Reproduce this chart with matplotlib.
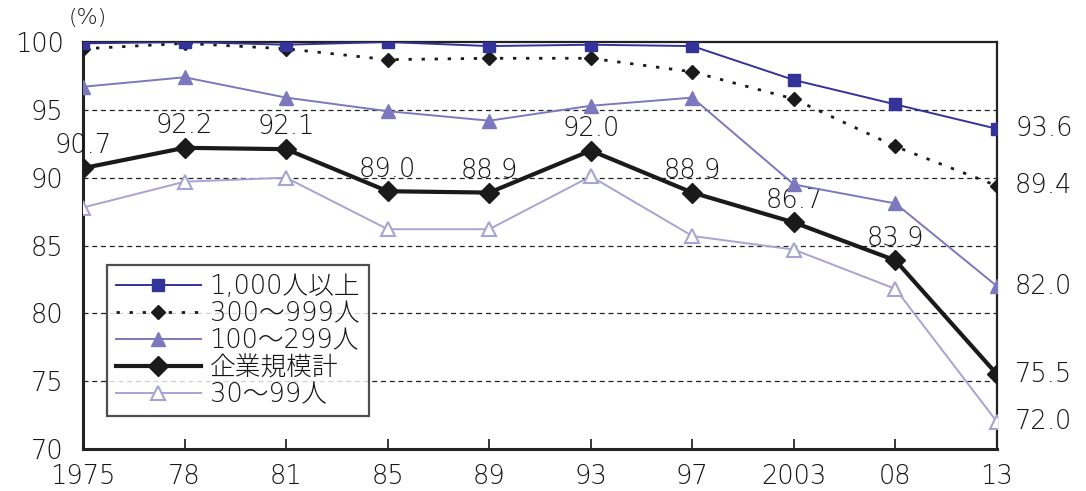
import matplotlib
matplotlib.use("Agg")
import matplotlib.pyplot as plt
import numpy as np

plt.rcParams['font.family'] = ['DejaVu Sans', 'Noto Sans CJK JP']

years = ["1975", "78", "81", "85", "89", "93", "97", "2003", "08", "13"]

s_1000 = [99.9, 100.0, 99.8, 100.0, 99.7, 99.8, 99.7, 97.2, 95.4, 93.6]
s_300 = [99.5, 99.9, 99.5, 98.7, 98.8, 98.8, 97.8, 95.8, 92.3, 89.4]
s_100 = [96.7, 97.4, 95.9, 94.9, 94.2, 95.3, 95.9, 89.5, 88.1, 82.0]
s_total = [90.7, 92.2, 92.1, 89.0, 88.9, 92.0, 88.9, 86.7, 83.9, 75.5]
s_30 = [87.8, 89.7, 90.0, 86.2, 86.2, 90.1, 85.7, 84.7, 81.8, 72.0]

names = ["1,000人以上", "300～999人", "100～299人", "企業規模計", "30～99人"]

x = np.arange(len(years))
txt = "#151515"
fs = 18.5
wt = "light"

fig = plt.figure(figsize=(10.86, 4.91), dpi=100)
ax = fig.add_axes([83 / 1086, 1 - 449 / 491, (997 - 83) / 1086, (449 - 42) / 491])

ax.plot(x, s_1000, color="#33339a", lw=1.4, marker="s", ms=9,
        mfc="#33339a", mec="#33339a", label=names[0], zorder=5)
ax.plot(x, s_300, color="#1a1a1a", lw=2.0, ls=(0, (1.2, 3.5)), marker="D", ms=7,
        mfc="#1a1a1a", mec="#1a1a1a", label=names[1], zorder=4)
ax.plot(x, s_100, color="#7b78bd", lw=1.4, marker="^", ms=10,
        mfc="#7b78bd", mec="#7b78bd", label=names[2], zorder=4)
ax.plot(x, s_total, color="#1a1a1a", lw=3.0, marker="D", ms=10,
        mfc="#1a1a1a", mec="#1a1a1a", label=names[3], zorder=6)
ax.plot(x, s_30, color="#a7a3d3", lw=1.4, marker="^", ms=10,
        mfc="white", mec="#a7a3d3", mew=1.5, label=names[4], zorder=3)

ax.set_xlim(0, len(years) - 1)
ax.set_ylim(70, 100)
ax.set_yticks([70, 75, 80, 85, 90, 95, 100])
ax.set_xticks(x)
ax.set_xticklabels(years)
ax.tick_params(axis="both", direction="in", length=7, width=1.2,
               labelsize=fs, colors=txt, labelcolor=txt)
ax.tick_params(axis="x", pad=11)
ax.tick_params(axis="y", pad=14, length=0)
for lab in ax.get_xticklabels() + ax.get_yticklabels():
    lab.set_fontweight(wt)

for v in [75, 80, 85, 90, 95]:
    ax.axhline(v, color="#222222", lw=0.9, ls=(0, (4, 3)), zorder=1)

for sp in ax.spines.values():
    sp.set_color("#222222")
    sp.set_linewidth(1.6)
ax.spines["left"].set_linewidth(2.2)
ax.spines["bottom"].set_linewidth(2.2)

# value labels above the overall line
for xi, v in zip(x[:-1], s_total[:-1]):
    ax.annotate(f"{v:.1f}", (xi, v), xytext=(0, 7), textcoords="offset points",
                ha="center", va="bottom", fontsize=fs, color=txt,
                fontweight=wt)

# final-year values to the right of the plot
for series in [s_1000, s_300, s_100, s_total, s_30]:
    ax.annotate(f"{series[-1]:.1f}", (x[-1], series[-1]), xytext=(13, 0),
                textcoords="offset points", ha="left", va="center",
                fontsize=fs, color=txt, annotation_clip=False,
                fontweight=wt)

fig.text(88 / 1086, 1 - 18 / 491, "(%)", ha="center", va="center",
         fontsize=16, color=txt, fontweight=wt)

leg = ax.legend(loc="upper left", bbox_to_anchor=(0.026, 0.452), borderaxespad=0,
                prop={"size": fs, "weight": wt}, frameon=True,
                fancybox=False, handlelength=3.3, handletextpad=0.35,
                labelspacing=0.08, borderpad=0.35, labelcolor=txt)
leg.get_frame().set_edgecolor("#222222")
leg.get_frame().set_linewidth(1.6)
leg.set_zorder(10)

fig.savefig("out.png", dpi=100)
